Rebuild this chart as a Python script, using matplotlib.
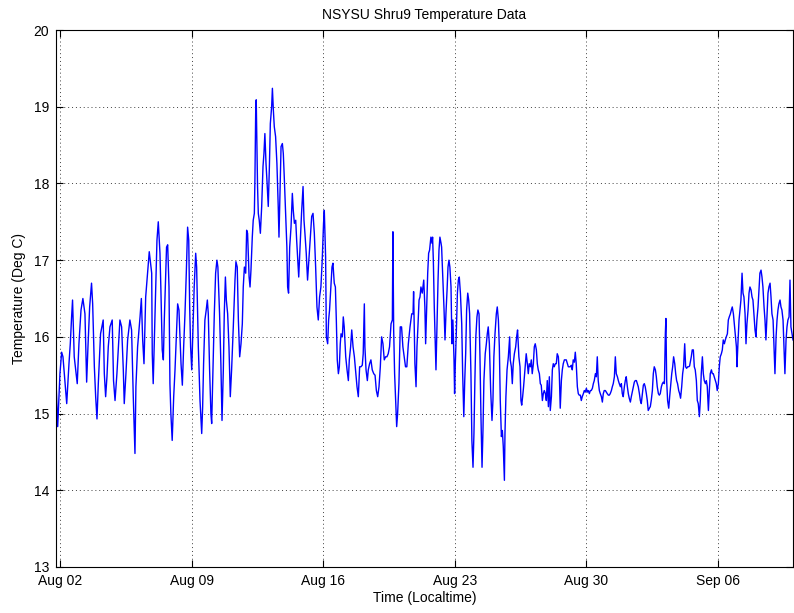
#!/usr/bin/env python3
"""
Shru9 thermistor temperature record, Aug 02 - Sep 09 (local time).
Time is in days since Aug 02 00:00 local time.
"""
import numpy as np
import matplotlib
matplotlib.use("Agg")
import matplotlib.pyplot as plt

# ---- data, one block per week-ish stretch of the record ----
t_aug01 = [
    -0.21, -0.12, 0.00, 0.09, 0.16, 0.36, 0.48, 0.55, 0.62, 0.67,
    0.76, 0.92, 1.01, 1.12, 1.22, 1.33, 1.42, 1.49, 1.58, 1.68,
    1.74, 1.83, 1.90, 1.97, 2.04, 2.09, 2.16, 2.23, 2.30, 2.36,
    2.43, 2.50, 2.57, 2.66, 2.78, 2.85, 2.93, 3.03, 3.19, 3.28,
    3.37, 3.42, 3.51, 3.60, 3.72, 3.81, 3.90, 3.99, 4.04, 4.13,
    4.26, 4.33, 4.40, 4.47, 4.56, 4.63, 4.75,
]
v_aug01 = [
    15.43, 14.83, 15.52, 15.80, 15.74, 15.13, 15.65, 15.91, 16.26, 16.48,
    15.74, 15.39, 15.91, 16.35, 16.50, 16.30, 15.41, 15.87, 16.39, 16.70,
    16.43, 15.61, 15.22, 14.93, 15.39, 15.65, 16.04, 16.13, 16.22, 15.52,
    15.22, 15.48, 15.87, 16.13, 16.22, 15.43, 15.17, 15.52, 16.22, 16.13,
    15.57, 15.13, 15.52, 15.96, 16.22, 16.09, 15.22, 14.48, 15.35, 15.87,
    16.26, 16.50, 15.96, 15.65, 16.52, 16.74, 17.11,
]

t_aug06 = [
    4.88, 4.91, 4.96, 5.05, 5.11, 5.16, 5.23, 5.32, 5.37, 5.44,
    5.50, 5.55, 5.62, 5.67, 5.73, 5.80, 5.85, 5.90, 5.97, 6.05,
    6.12, 6.21, 6.26, 6.33, 6.44, 6.51, 6.58, 6.65, 6.72, 6.79,
    6.85, 6.90, 6.95, 7.01, 7.07, 7.14, 7.22, 7.27, 7.36, 7.45,
    7.54, 7.59, 7.64, 7.71, 7.78, 7.84, 7.89, 7.96, 8.03, 8.07,
    8.14, 8.21, 8.28, 8.35, 8.40, 8.49, 8.56, 8.62, 8.69, 8.74,
    8.80, 8.85, 8.92, 8.99, 9.06, 9.13, 9.22, 9.31, 9.36, 9.43,
    9.49, 9.56,
]
v_aug06 = [
    16.83, 15.78, 15.39, 16.22, 16.78, 17.26, 17.50, 17.09, 16.61, 15.83,
    15.70, 16.22, 16.78, 17.17, 17.20, 16.65, 15.39, 15.00, 14.65, 15.22,
    15.57, 16.13, 16.43, 16.35, 15.65, 15.37, 15.87, 16.30, 16.83, 17.43,
    17.26, 16.39, 15.87, 15.57, 16.09, 16.65, 17.09, 16.91, 15.87, 15.17,
    14.74, 15.09, 15.65, 16.22, 16.35, 16.48, 16.30, 15.57, 15.00, 14.87,
    15.61, 16.30, 16.83, 17.00, 16.91, 16.30, 15.65, 14.91, 15.57, 16.30,
    16.78, 16.48, 16.30, 15.87, 15.22, 15.57, 16.13, 16.74, 16.98, 16.91,
    16.22, 15.74,
]

t_aug11 = [
    9.63, 9.70, 9.75, 9.81, 9.88, 9.93, 9.98, 10.06, 10.11, 10.16,
    10.23, 10.28, 10.34, 10.37, 10.41, 10.44, 10.48, 10.51, 10.55, 10.60,
    10.66, 10.73, 10.80, 10.85, 10.90, 10.96, 11.01, 11.08, 11.14, 11.19,
    11.26, 11.30, 11.35, 11.40, 11.47, 11.54, 11.61, 11.65, 11.70, 11.76,
    11.83, 11.88, 11.93, 12.00, 12.07, 12.11, 12.16, 12.22, 12.29, 12.36,
    12.41, 12.47, 12.54, 12.59, 12.64, 12.70, 12.77, 12.85, 12.93, 12.98,
    13.03, 13.10, 13.17, 13.24, 13.31, 13.39, 13.46, 13.53, 13.60, 13.67,
    13.74, 13.81, 13.88, 13.95, 14.02, 14.06,
]
v_aug11 = [
    15.91, 16.17, 16.65, 16.91, 16.83, 17.39, 17.35, 16.78, 16.65, 16.87,
    17.30, 17.52, 17.61, 18.04, 18.91, 19.09, 18.48, 17.96, 17.61, 17.52,
    17.35, 17.70, 18.22, 18.39, 18.65, 18.26, 18.04, 17.70, 18.22, 18.78,
    19.00, 19.24, 18.96, 18.74, 18.61, 18.26, 17.70, 17.30, 17.83, 18.48,
    18.52, 18.39, 18.09, 17.61, 17.17, 16.65, 16.57, 17.17, 17.43, 17.87,
    17.65, 17.48, 17.52, 17.26, 17.04, 16.78, 17.17, 17.61, 17.96, 17.52,
    17.35, 17.09, 16.74, 17.00, 17.26, 17.57, 17.61, 17.35, 16.91, 16.39,
    16.22, 16.52, 16.65, 17.00, 17.48, 17.65,
]

t_aug16 = [
    14.13, 14.17, 14.24, 14.29, 14.34, 14.41, 14.47, 14.52, 14.59, 14.65,
    14.70, 14.75, 14.81, 14.86, 14.91, 14.95, 15.02, 15.07, 15.12, 15.20,
    15.27, 15.34, 15.39, 15.46, 15.52, 15.59, 15.66, 15.73, 15.80, 15.87,
    15.94, 16.01, 16.08, 16.13, 16.19, 16.22, 16.28, 16.35, 16.40, 16.47,
    16.54, 16.61, 16.69, 16.76, 16.83, 16.90, 16.97, 17.04, 17.11, 17.18,
    17.25, 17.32, 17.39, 17.46, 17.53, 17.61, 17.68, 17.71, 17.75, 17.80,
    17.86, 17.91, 17.96, 18.03, 18.10, 18.17, 18.24, 18.31, 18.38, 18.45,
    18.53, 18.62, 18.71, 18.78, 18.81, 18.88,
]
v_aug16 = [
    17.04, 16.00, 15.91, 16.22, 16.35, 16.65, 16.91, 16.96, 16.70, 16.65,
    16.22, 15.70, 15.52, 15.61, 15.91, 16.04, 16.00, 16.26, 16.13, 15.74,
    15.57, 15.43, 15.70, 15.87, 16.09, 15.87, 15.74, 15.54, 15.35, 15.22,
    15.61, 15.61, 15.63, 15.78, 16.43, 15.87, 15.57, 15.43, 15.57, 15.65,
    15.70, 15.57, 15.52, 15.50, 15.30, 15.22, 15.35, 15.61, 16.00, 15.91,
    15.70, 15.74, 15.74, 15.78, 15.87, 16.17, 16.22, 17.37, 16.09, 15.52,
    15.13, 14.83, 15.00, 15.39, 16.13, 16.13, 15.87, 15.74, 15.61, 15.61,
    15.91, 16.13, 16.30, 16.30, 16.59, 15.65,
]

t_aug20 = [
    18.94, 18.99, 19.04, 19.10, 19.15, 19.20, 19.27, 19.35, 19.41, 19.45,
    19.50, 19.56, 19.61, 19.66, 19.73, 19.79, 19.82, 19.86, 19.91, 19.96,
    20.00, 20.05, 20.11, 20.16, 20.21, 20.27, 20.30, 20.37, 20.43, 20.48,
    20.53, 20.59, 20.64, 20.69, 20.74, 20.80, 20.85, 20.90, 20.96, 20.99,
    21.03, 21.08, 21.14, 21.19, 21.24, 21.30, 21.37, 21.42, 21.48, 21.53,
    21.58, 21.63, 21.69, 21.74, 21.79, 21.86, 21.91, 21.97, 22.02, 22.07,
    22.12, 22.18, 22.23, 22.29, 22.34, 22.39, 22.45, 22.50, 22.55, 22.62,
    22.68, 22.73, 22.78, 22.84, 22.91, 22.98, 23.03, 23.08, 23.14, 23.21,
    23.26, 23.32, 23.37, 23.42, 23.48, 23.53, 23.58, 23.64, 23.67, 23.72,
    23.78, 23.85, 23.92,
]
v_aug20 = [
    15.35, 15.87, 16.13, 16.48, 16.52, 16.65, 16.57, 16.74, 16.39, 15.91,
    16.35, 16.83, 17.09, 17.13, 17.30, 17.22, 17.30, 17.00, 16.39, 15.96,
    15.57, 16.09, 16.74, 17.13, 17.30, 17.22, 17.17, 16.74, 16.35, 15.96,
    16.30, 16.61, 16.91, 17.00, 16.91, 16.65, 15.91, 16.22, 15.70, 15.26,
    15.65, 16.04, 16.57, 16.74, 16.78, 16.57, 16.17, 15.52, 14.96, 15.43,
    15.78, 16.35, 16.57, 16.48, 16.30, 15.52, 14.65, 14.30, 14.74, 15.43,
    16.00, 16.26, 16.35, 16.30, 15.74, 15.00, 14.30, 14.78, 15.43, 15.78,
    15.91, 16.04, 16.13, 15.91, 15.30, 14.91, 15.17, 15.74, 16.04, 16.30,
    16.39, 16.22, 15.87, 15.17, 14.70, 14.78, 14.57, 14.13, 14.74, 15.22,
    15.57, 15.74, 16.00,
]

t_aug25 = [
    23.95, 24.01, 24.06, 24.11, 24.17, 24.24, 24.29, 24.34, 24.41, 24.47,
    24.52, 24.56, 24.61, 24.66, 24.73, 24.80, 24.86, 24.91, 24.96, 25.02,
    25.07, 25.12, 25.18, 25.23, 25.28, 25.34, 25.39, 25.44, 25.50, 25.55,
    25.60, 25.66, 25.71, 25.76, 25.82, 25.87, 25.92, 25.98, 26.03, 26.08,
    26.14, 26.19, 26.24, 26.29, 26.35, 26.40, 26.45, 26.51, 26.56, 26.61,
    26.67, 26.72, 26.77, 26.83, 26.88, 26.93, 26.99, 27.04, 27.09, 27.15,
    27.20, 27.25, 27.30, 27.36, 27.41, 27.46, 27.52, 27.57, 27.62, 27.68,
    27.73, 27.78, 27.84, 27.89, 27.94, 28.00, 28.05, 28.10, 28.16, 28.21,
    28.26, 28.32, 28.37, 28.42, 28.48, 28.53, 28.58, 28.63, 28.69,
]
v_aug25 = [
    15.70, 15.61, 15.39, 15.65, 15.78, 15.87, 16.00, 16.09, 15.74, 15.61,
    15.17, 15.11, 15.22, 15.35, 15.57, 15.78, 15.65, 15.52, 15.65, 15.61,
    15.70, 15.52, 15.65, 15.87, 15.91, 15.83, 15.65, 15.57, 15.52, 15.39,
    15.37, 15.17, 15.26, 15.30, 15.26, 15.17, 15.43, 15.09, 15.48, 15.04,
    15.22, 15.57, 15.65, 15.61, 15.65, 15.65, 15.78, 15.74, 15.52, 15.07,
    15.43, 15.57, 15.65, 15.70, 15.70, 15.70, 15.65, 15.61, 15.61, 15.61,
    15.63, 15.57, 15.70, 15.67, 15.80, 15.65, 15.35, 15.26, 15.24, 15.24,
    15.17, 15.22, 15.26, 15.30, 15.28, 15.33, 15.28, 15.30, 15.26, 15.30,
    15.30, 15.33, 15.39, 15.43, 15.52, 15.48, 15.74, 15.43, 15.30,
]

t_aug30 = [
    28.74, 28.80, 28.85, 28.90, 28.95, 29.01, 29.06, 29.11, 29.17, 29.22,
    29.27, 29.33, 29.38, 29.43, 29.49, 29.54, 29.59, 29.65, 29.70, 29.75,
    29.81, 29.86, 29.91, 29.96, 30.02, 30.07, 30.12, 30.18, 30.23, 30.28,
    30.34, 30.39, 30.44, 30.50, 30.55, 30.60, 30.66, 30.71, 30.76, 30.82,
    30.87, 30.92, 30.98, 31.03, 31.08, 31.13, 31.19, 31.24, 31.29, 31.35,
    31.40, 31.45, 31.51, 31.56, 31.61, 31.67, 31.72, 31.77, 31.83, 31.88,
    31.93, 31.99, 32.04, 32.09, 32.15, 32.20, 32.23, 32.27, 32.32, 32.38,
    32.43, 32.48, 32.54, 32.59, 32.64, 32.70, 32.75, 32.80, 32.85, 32.91,
    32.96, 33.01, 33.07, 33.12, 33.17, 33.23, 33.28, 33.33, 33.39, 33.44,
    33.49,
]
v_aug30 = [
    15.26, 15.22, 15.15, 15.26, 15.30, 15.30, 15.28, 15.26, 15.24, 15.24,
    15.26, 15.30, 15.35, 15.39, 15.48, 15.74, 15.52, 15.48, 15.43, 15.39,
    15.35, 15.39, 15.26, 15.22, 15.35, 15.43, 15.48, 15.35, 15.26, 15.20,
    15.15, 15.22, 15.28, 15.35, 15.41, 15.43, 15.43, 15.39, 15.35, 15.26,
    15.17, 15.13, 15.26, 15.37, 15.39, 15.35, 15.26, 15.17, 15.04, 15.07,
    15.09, 15.17, 15.30, 15.52, 15.61, 15.57, 15.48, 15.35, 15.26, 15.24,
    15.26, 15.35, 15.39, 15.41, 15.39, 16.04, 16.24, 15.43, 15.17, 15.07,
    15.22, 15.35, 15.52, 15.61, 15.74, 15.65, 15.52, 15.43, 15.39, 15.30,
    15.26, 15.20, 15.35, 15.52, 15.61, 15.91, 15.61, 15.59, 15.61, 15.61,
    15.62,
]

t_sep04 = [
    33.58, 33.63, 33.69, 33.74, 33.79, 33.85, 33.90, 33.95, 34.01, 34.06,
    34.11, 34.17, 34.22, 34.27, 34.33, 34.38, 34.43, 34.49, 34.54, 34.59,
    34.65, 34.70, 34.75, 34.80, 34.86, 34.91, 34.96, 35.02, 35.07, 35.12,
    35.18, 35.23, 35.28, 35.34, 35.39, 35.44, 35.50, 35.55, 35.60, 35.66,
    35.71, 35.76, 35.82, 35.87, 35.92, 35.98, 36.01, 36.06, 36.12, 36.17,
    36.22, 36.28, 36.33, 36.38, 36.44, 36.49, 36.54, 36.60, 36.65, 36.70,
    36.76, 36.81, 36.86, 36.91, 36.97, 37.02, 37.07, 37.13, 37.18, 37.23,
    37.29, 37.34, 37.39, 37.45, 37.50, 37.55, 37.61, 37.66, 37.71, 37.77,
    37.82, 37.87, 37.93, 37.98, 38.03, 38.09, 38.14, 38.19, 38.24, 38.30,
    38.35, 38.40, 38.46, 38.51, 38.56, 38.62, 38.67, 38.72, 38.78, 38.83,
    38.88, 38.94, 38.99,
]
v_sep04 = [
    15.74, 15.83, 15.83, 15.61, 15.57, 15.43, 15.17, 15.13, 14.96, 15.17,
    15.52, 15.74, 15.52, 15.43, 15.39, 15.43, 15.35, 15.04, 15.30, 15.52,
    15.57, 15.52, 15.52, 15.48, 15.43, 15.39, 15.30, 15.39, 15.61, 15.74,
    15.78, 15.83, 15.96, 15.91, 15.96, 16.00, 16.04, 16.22, 16.26, 16.30,
    16.35, 16.39, 16.30, 16.17, 16.04, 15.87, 15.61, 15.91, 16.22, 16.35,
    16.48, 16.83, 16.57, 16.52, 16.30, 15.91, 16.17, 16.35, 16.57, 16.65,
    16.61, 16.52, 16.48, 16.30, 16.09, 16.00, 16.22, 16.39, 16.61, 16.83,
    16.87, 16.78, 16.65, 16.39, 16.22, 15.96, 16.30, 16.57, 16.65, 16.70,
    16.52, 16.30, 16.22, 15.87, 15.52, 16.00, 16.22, 16.35, 16.43, 16.48,
    16.39, 16.35, 16.22, 15.87, 15.52, 15.96, 16.13, 16.22, 16.26, 16.74,
    16.13, 16.04, 15.96,
]

tick_days = [0, 7, 14, 21, 28, 35]
tick_labels = ["Aug 02", "Aug 09", "Aug 16", "Aug 23", "Aug 30", "Sep 06"]
temp_ticks = [13, 14, 15, 16, 17, 18, 19, 20]

time_days = np.concatenate([t_aug01, t_aug06, t_aug11, t_aug16,
                            t_aug20, t_aug25, t_aug30, t_sep04])
temp_c = np.concatenate([v_aug01, v_aug06, v_aug11, v_aug16,
                         v_aug20, v_aug25, v_aug30, v_sep04])

plt.rcParams["font.family"] = ["Liberation Sans", "DejaVu Sans"]
plt.rcParams["font.size"] = 10

fig = plt.figure(figsize=(7.94, 6.13), dpi=100)
ax = fig.add_axes([56 / 794, 46 / 613, 737 / 794, 537 / 613])

ax.plot(time_days, temp_c, color="#0000ff", lw=1.0)

ax.set_xlim(time_days[0], time_days[-1])
ax.set_ylim(13, 20)
ax.set_xticks(tick_days)
ax.set_xticklabels(tick_labels)
ax.set_yticks(temp_ticks)

ax.grid(True, color="0.25", lw=0.7, linestyle=(0, (1, 3)))
ax.tick_params(direction="in", top=True, right=True, length=5, width=0.8)
ax.tick_params(axis="x", pad=5)
ax.tick_params(axis="y", pad=5)
for sp in ax.spines.values():
    sp.set_linewidth(0.8)

ax.set_title("NSYSU Shru9 Temperature Data", fontsize=10, pad=8)
ax.set_xlabel("Time (Localtime)", labelpad=2)
ax.set_ylabel("Temperature (Deg C)", labelpad=5)

fig.savefig("out.png", dpi=100)
